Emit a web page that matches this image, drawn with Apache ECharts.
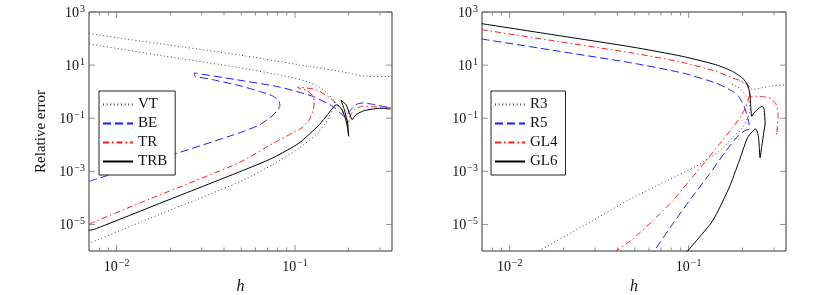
<!DOCTYPE html>
<html><head><meta charset="utf-8">
<script src="https://cdn.jsdelivr.net/npm/echarts@6/dist/echarts.min.js"></script>
<style>html,body{margin:0;padding:0;background:#fff}#c{width:819px;height:295px}</style>
</head><body><div id="c"></div>
<script>
// ---- tick values / labels ----
const xRange = [0.007, 0.35];
const yRange = [1e-6, 1e3];
const xMajorTicks = [0.01, 0.1];
const xMinorTicks = [0.008, 0.009, 0.02, 0.03, 0.04, 0.05, 0.06, 0.07, 0.08, 0.09, 0.2, 0.3];
const yLabelTicks = [1e3, 1e1, 1e-1, 1e-3, 1e-5];

// ---- left panel series ----
const vtUpper = [[0.007,152.8],[0.0152,72.9],[0.0488,24.0],[0.1057,10.3],[0.2018,5.06],[0.2104,4.63],[0.2344,4.02],[0.2612,3.79],[0.345,3.68]];
const vtLoop = [[0.00703,62.4],[0.0189,21.4],[0.0488,8.03],[0.0853,4.02],[0.1153,2.46],[0.1369,1.50],[0.1525,0.843],[0.1627,0.501],[0.1683,0.325],[0.1627,0.211],[0.1558,0.118],[0.1461,0.0574],[0.1313,0.0242],[0.1057,0.0076],[0.0750,0.00179],[0.0488,3.99e-4],[0.0152,1.66e-5],[0.00703,1.96e-6]];
const beCurve = [[0.00703,4.23e-4],[0.0152,2.19e-3],[0.0487,0.0279],[0.0631,0.0558],[0.0734,0.112],[0.0799,0.199],[0.0824,0.298],[0.0810,0.459],[0.0750,0.689],[0.0631,1.03],[0.0487,1.69],[0.0345,2.84],[0.0273,4.02],[0.0273,5.06],[0.0467,2.84],[0.0817,1.50],[0.1256,0.670],[0.1627,0.281],[0.1811,0.149],[0.1915,0.112],[0.2018,0.182],[0.2198,0.325],[0.2395,0.376],[0.2726,0.335],[0.345,0.243]];
const trCurve = [[0.00703,1.05e-5],[0.0152,8.89e-5],[0.0487,2.13e-3],[0.0750,0.0111],[0.0970,0.0279],[0.1104,0.0456],[0.1203,0.0885],[0.1267,0.211],[0.1283,0.434],[0.1245,0.773],[0.1153,1.125],[0.1049,1.34],[0.1035,1.50],[0.1313,1.19],[0.1525,0.670],[0.1698,0.376],[0.1850,0.182],[0.1949,0.0885],[0.1983,0.0526],[0.2034,0.118],[0.2151,0.211],[0.2395,0.281],[0.2845,0.2655],[0.345,0.211]];
const trbCurve = [[0.00697,6.05e-6],[0.00743,6.41e-6],[0.0189,7.69e-5],[0.0487,9.48e-4],[0.0750,3.19e-3],[0.1057,0.01172],[0.1369,0.0574],[0.1525,0.1368],[0.1627,0.2434],[0.1713,0.325],[0.1835,0.211],[0.1949,0.0664],[0.2000,0.0209],[0.1973,0.0664],[0.1891,0.211],[0.1811,0.473],[0.1932,0.325],[0.2034,0.1368],[0.2088,0.0885],[0.2198,0.1368],[0.2447,0.1932],[0.2845,0.2296],[0.345,0.2434]];

// ---- right panel series ----
const r3Lower = [[0.01339,7.34e-7],[0.01478,1.07e-6],[0.02663,9.89e-6],[0.0483,9.97e-5],[0.0743,4.23e-4],[0.1142,1.79e-3],[0.1478,5.69e-3],[0.1756,0.01808],[0.1998,0.043],[0.2139,0.1023],[0.2205,0.211],[0.2167,0.501],[0.2094,0.670],[0.2006,1.03],[0.1880,1.50],[0.1802,1.687],[0.1689,2.126]];
const r3Upper = [[0.1921,2.53],[0.2139,1.84],[0.2282,1.193],[0.2486,1.34],[0.2828,1.592],[0.3506,1.84]];
const r5Curve = [[0.00697,96.3],[0.0189,33.1],[0.0482,12.03],[0.0922,5.06],[0.1416,2.126],[0.1756,1.03],[0.1913,0.632],[0.2041,0.281],[0.2130,0.1183],[0.2177,0.0574],[0.2186,0.0394],[0.2085,0.0351],[0.1913,0.0242],[0.1611,5.69e-3],[0.1300,7.54e-4],[0.1004,7.47e-5],[0.0810,9.89e-6],[0.0640,9.8e-7],[0.0615,6.73e-7]];
const gl4Main = [[0.00697,216.3],[0.0189,76.4],[0.0482,28.6],[0.0922,12.75],[0.1416,5.84],[0.1756,3.28],[0.1998,2.455],[0.2130,1.687],[0.2186,1.03],[0.2186,0.894],[0.2167,0.579],[0.2094,0.281],[0.1963,0.1183],[0.1756,0.0430],[0.1478,0.01015],[0.1245,2.39e-3],[0.1004,4.23e-4],[0.0810,7.47e-5],[0.0626,1.32e-5],[0.0483,2.69e-6],[0.0392,9.8e-7]];
const gl4Arch = [[0.2186,0.894],[0.2233,0.632],[0.2381,0.670],[0.2652,0.632],[0.2889,0.531],[0.3082,0.325],[0.3162,0.1368],[0.3135,0.0497],[0.3095,0.0242],[0.3148,0.0430]];
const gl6Curve = [[0.00697,364],[0.0189,128.5],[0.0482,48.2],[0.0922,21.4],[0.1416,10.4],[0.1756,5.84],[0.1998,3.28],[0.2130,1.84],[0.2195,0.894],[0.2223,0.281],[0.2252,0.118],[0.2321,0.158],[0.2475,0.243],[0.2584,0.281],[0.2640,0.211],[0.2675,0.0664],[0.2629,0.0279],[0.2562,0.00878],[0.2508,0.00319],[0.2454,0.0209],[0.2371,0.0394],[0.2272,0.0322],[0.2130,0.0181],[0.1913,0.00239],[0.1681,2.37e-4],[0.1357,1.32e-5],[0.0983,9.8e-7],[0.0906,5.0e-7]];

const SERIF = 'Liberation Serif';
const C_DOT = '#444', C_BLUE = '#1a1aff', C_RED = '#ff1a1a', C_BLACK = '#000';
const DOT = [1, 2.6], DASH = [8, 4], DASHDOT = [6, 3, 1.5, 3];

function isTick(v, list) { return list.some(t => Math.abs(Math.log10(v) - Math.log10(t)) < 1e-6); }
function powLabel(v) {
  const e = Math.round(Math.log10(v));
  return '{b|10}{s|' + (e < 0 ? '\u2212' + (-e) : e) + '}';
}
const rich = {
  b: { fontFamily: SERIF, fontSize: 14, color: '#111', lineHeight: 16, verticalAlign: 'bottom' },
  s: { fontFamily: SERIF, fontSize: 10, color: '#111', lineHeight: 10, verticalAlign: 'top', padding: [0, 0, 0, 1] }
};

const grids = [
  { left: 89, top: 12, width: 303, height: 239, show: true, borderColor: '#333', borderWidth: 1, backgroundColor: 'transparent', outerBoundsMode: 'none', containLabel: false },
  { left: 482, top: 12, width: 304, height: 239, show: true, borderColor: '#333', borderWidth: 1, backgroundColor: 'transparent', outerBoundsMode: 'none', containLabel: false }
];

function xAx(i) {
  return { type: 'log', logBase: 10, gridIndex: i, min: xRange[0], max: xRange[1],
    axisLine: { show: false }, axisTick: { show: false }, splitLine: { show: false },
    axisLabel: { margin: 7, formatter: v => isTick(v, xMajorTicks) ? powLabel(v) : '', rich: rich },
    name: 'h', nameLocation: 'middle', nameGap: 27,
    nameTextStyle: { fontFamily: SERIF, fontStyle: 'italic', fontSize: 16, color: '#111' } };
}
function yAx(i) {
  const a = { type: 'log', logBase: 10, gridIndex: i, min: yRange[0], max: yRange[1],
    axisLine: { show: false }, axisTick: { show: false }, splitLine: { show: false },
    axisLabel: { margin: 4, formatter: v => isTick(v, yLabelTicks) ? powLabel(v) : '', rich: rich } };
  if (i === 0) {
    a.name = 'Relative error'; a.nameLocation = 'middle'; a.nameGap = 40;
    a.nameTextStyle = { fontFamily: SERIF, fontSize: 15, color: '#111' };
  }
  return a;
}

function tickSeries(i) {
  const st = { color: '#777' };
  const base = { type: 'scatter', xAxisIndex: i, yAxisIndex: i, silent: true, clip: false, symbol: 'rect', itemStyle: st, z: 1 };
  return [
    Object.assign({}, base, { name: '_t', symbolSize: [1, 6], symbolOffset: [0, -3], data: xMajorTicks.map(x => [x, yRange[0]]) }),
    Object.assign({}, base, { name: '_t', symbolSize: [1, 6], symbolOffset: [0, 3], data: xMajorTicks.map(x => [x, yRange[1]]) }),
    Object.assign({}, base, { name: '_t', symbolSize: [1, 3.5], symbolOffset: [0, -1.75], data: xMinorTicks.map(x => [x, yRange[0]]) }),
    Object.assign({}, base, { name: '_t', symbolSize: [1, 3.5], symbolOffset: [0, 1.75], data: xMinorTicks.map(x => [x, yRange[1]]) }),
    Object.assign({}, base, { name: '_t', symbolSize: [6, 1], symbolOffset: [3, 0], data: yLabelTicks.map(y => [xRange[0], y]) }),
    Object.assign({}, base, { name: '_t', symbolSize: [6, 1], symbolOffset: [-3, 0], data: yLabelTicks.map(y => [xRange[1], y]) })
  ];
}

function line(name, i, data, color, type, width) {
  return { name: name, type: 'line', xAxisIndex: i, yAxisIndex: i, data: data, symbol: 'none', showSymbol: false,
    smooth: 0.2,
    lineStyle: { color: color, width: width || 1, type: type }, itemStyle: { color: color }, z: 3, silent: true };
}

const legendBase = { orient: 'vertical', top: 91, itemWidth: 30, itemHeight: 14, itemGap: 4,
  borderColor: '#222', borderWidth: 1, backgroundColor: '#fff', selectedMode: false,
  itemStyle: { opacity: 0 },
  textStyle: { fontFamily: SERIF, fontSize: 15, color: '#111' } };

const option = {
  animation: false,
  backgroundColor: '#fff',
  grid: grids,
  xAxis: [xAx(0), xAx(1)],
  yAxis: [yAx(0), yAx(1)],
  legend: [
    Object.assign({}, legendBase, { left: 99, padding: [6, 8, 6, 3], data: ['VT', 'BE', 'TR', 'TRB'] }),
    Object.assign({}, legendBase, { left: 491, padding: [6, 8, 6, 3], data: ['R3', 'R5', 'GL4', 'GL6'] })
  ],
  series: [].concat(
    tickSeries(0), tickSeries(1),
    [
      line('VT', 0, vtUpper, C_DOT, DOT),
      line('VT', 0, vtLoop, C_DOT, DOT),
      line('BE', 0, beCurve, C_BLUE, DASH),
      line('TR', 0, trCurve, C_RED, DASHDOT),
      line('TRB', 0, trbCurve, C_BLACK, 'solid'),
      line('R3', 1, r3Lower, C_DOT, DOT),
      line('R3', 1, r3Upper, C_DOT, DOT),
      line('R5', 1, r5Curve, C_BLUE, DASH),
      line('GL4', 1, gl4Main, C_RED, DASHDOT),
      line('GL4', 1, gl4Arch, C_RED, DASHDOT),
      line('GL6', 1, gl6Curve, C_BLACK, 'solid')
    ])
};
const chart = echarts.init(document.getElementById('c'), null, { renderer: 'canvas' });
chart.setOption(option);
</script></body></html>
